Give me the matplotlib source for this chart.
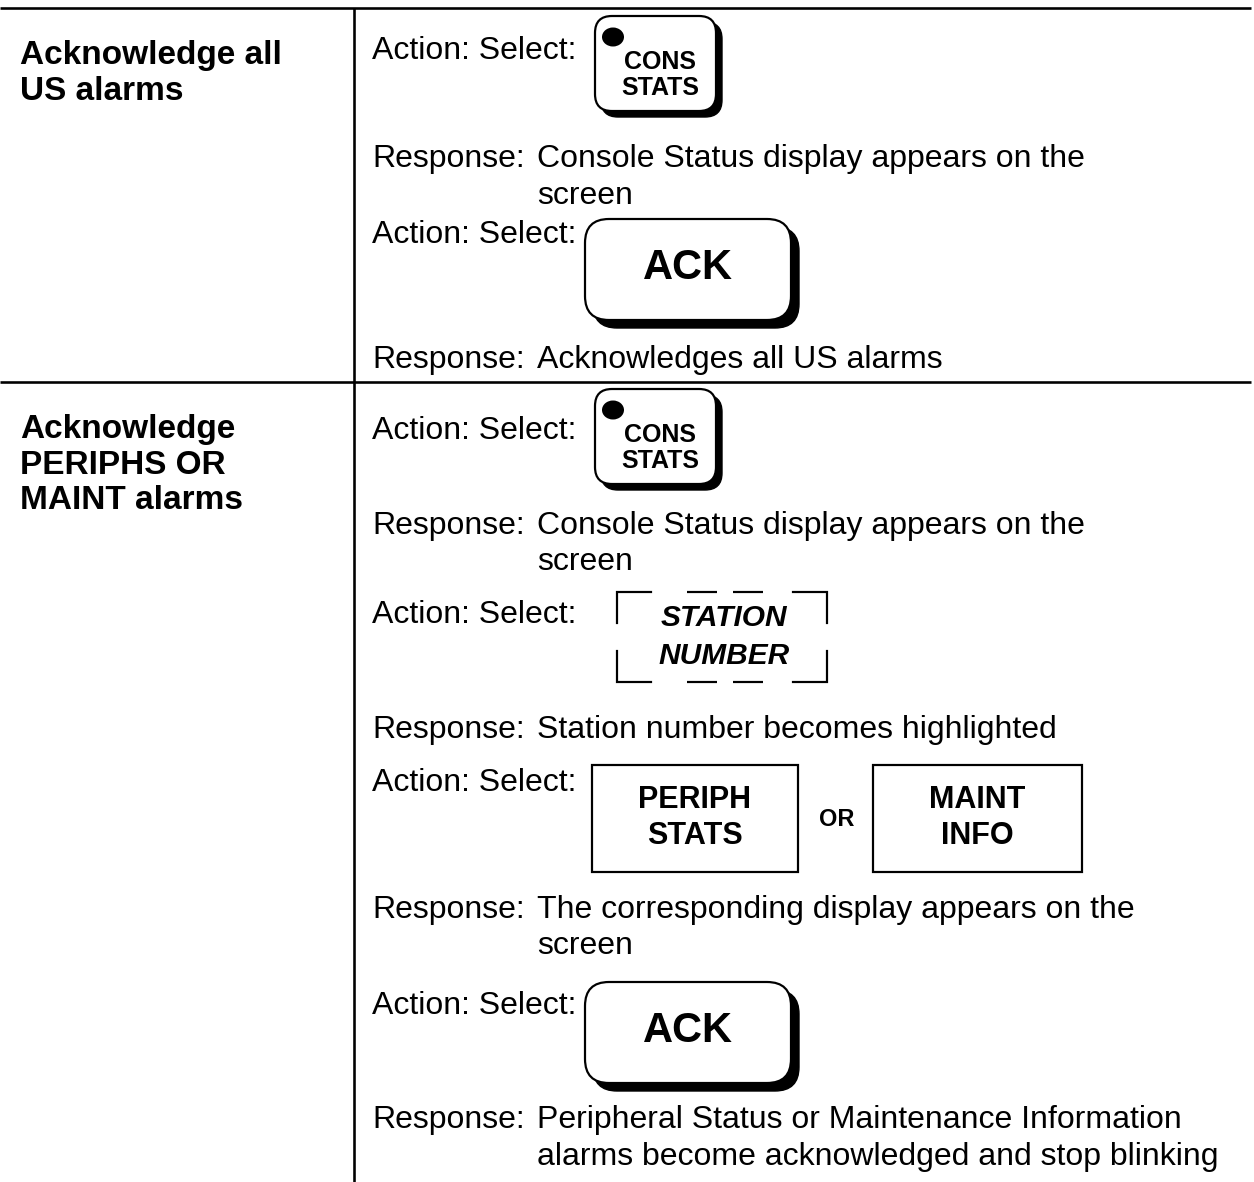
# Alarm acknowledge procedure table (two rows, action / response steps)

import matplotlib
matplotlib.use('Agg')

import matplotlib.pyplot as plt
from matplotlib.patches import FancyBboxPatch, Rectangle, Ellipse

# ----------------------------
# Text content
# ----------------------------

row_titles = [["Acknowledge all", "US alarms"],
              ["Acknowledge", "PERIPHS OR", "MAINT alarms"]]
title_baselines = [64, 438]

step_heads = ["Action: Select:", "Response:", "Action: Select:", "Response:",
              "Action: Select:", "Response:", "Action: Select:", "Response:",
              "Action: Select:", "Response:", "Action: Select:", "Response:"]
step_bodies = [[], ["Console Status display appears on the", "screen"],
               [], ["Acknowledges all US alarms"],
               [], ["Console Status display appears on the", "screen"],
               [], ["Station number becomes highlighted"],
               [], ["The corresponding display appears on the", "screen"],
               [], ["Peripheral Status or Maintenance Information",
                    "alarms become acknowledged and stop blinking"]]
step_baselines = [59, 167, 243, 368, 439, 534, 623, 738, 791, 918, 1014, 1128]

key_cons = ["CONS", "STATS"]
key_ack = ["ACK"]
key_station = ["STATION", "NUMBER"]
key_periph = ["PERIPH", "STATS"]
key_maint = ["MAINT", "INFO"]

FONT = ['Liberation Sans', 'DejaVu Sans']
PX = 72 / 100.0  # points per pixel

# ----------------------------
# Canvas in pixel units
# ----------------------------

fig = plt.figure(figsize=(12.54, 11.82), dpi=100)
ax = fig.add_axes([0, 0, 1, 1])
ax.set_xlim(0, 1254)
ax.set_ylim(1182, 0)
ax.axis('off')

# table rules
lw_rule = 2.6 * PX
ax.plot([0, 1251], [8, 8], color='black', lw=lw_rule, solid_capstyle='butt')
ax.plot([0, 1251], [382, 382], color='black', lw=lw_rule, solid_capstyle='butt')
ax.plot([354, 354], [8, 1182], color='black', lw=lw_rule, solid_capstyle='butt')

# row titles
for lines, y0 in zip(row_titles, title_baselines):
    for i, line in enumerate(lines):
        ax.text(20, y0 + i * 35.5, line, fontsize=24, fontweight='bold',
                family=FONT, va='baseline', ha='left')

# action / response lines
for head, body, y0 in zip(step_heads, step_bodies, step_baselines):
    ax.text(372, y0, head, fontsize=23, family=FONT, va='baseline', ha='left')
    for i, line in enumerate(body):
        ax.text(537, y0 + i * 36.5, line, fontsize=23, family=FONT,
                va='baseline', ha='left')


def round_key(x0, y0, w, h, r, shadow, labels, size, tx, ty, gap, dot=False):
    ax.add_patch(FancyBboxPatch((x0 + shadow, y0 + shadow), w, h,
                                boxstyle=f"round,pad=0,rounding_size={r}",
                                fc='black', ec='black', lw=1))
    ax.add_patch(FancyBboxPatch((x0, y0), w, h,
                                boxstyle=f"round,pad=0,rounding_size={r}",
                                fc='white', ec='black', lw=2.2 * PX))
    if dot:
        ax.add_patch(Ellipse((x0 + 18, y0 + 21), 22, 19, fc='black', ec='none'))
    for i, lab in enumerate(labels):
        ax.text(tx, ty + i * gap, lab, fontsize=size, fontweight='bold',
                family=FONT, ha='center', va='center')


def square_key(x0, y0, w, h, labels, size, gap):
    ax.add_patch(Rectangle((x0, y0), w, h, fc='white', ec='black', lw=2.2 * PX))
    cy = y0 + h / 2 - gap * (len(labels) - 1) / 2
    for i, lab in enumerate(labels):
        ax.text(x0 + w / 2, cy + i * gap, lab, fontsize=size, fontweight='bold',
                family=FONT, ha='center', va='center')


def dashed_key(x0, y0, w, h, labels, size, gap):
    lw = 2.2 * PX
    x1, y1 = x0 + w, y0 + h
    arm_x, arm_y = 34, 31
    # corners
    for cx, cy, sx, sy in [(x0, y0, 1, 1), (x1, y0, -1, 1),
                           (x0, y1, 1, -1), (x1, y1, -1, -1)]:
        ax.plot([cx + sx * arm_x, cx, cx], [cy, cy, cy + sy * arm_y],
                color='black', lw=lw, solid_joinstyle='miter')
    # middle dashes on top and bottom
    for a, b in [(70, 100), (116, 146)]:
        for yy in (y0, y1):
            ax.plot([x0 + a, x0 + b], [yy, yy], color='black', lw=lw,
                    solid_capstyle='butt')
    cy = y0 + h / 2 - gap * (len(labels) - 1) / 2
    for i, lab in enumerate(labels):
        ax.text(x0 + w / 2 + 2, cy + i * gap, lab, fontsize=size,
                fontweight='bold', style='italic', family=FONT,
                ha='center', va='center')


# ----------------------------
# Keys, row 1
# ----------------------------

round_key(595, 16, 121, 95, 17, 6, key_cons, 18, 660, 62, 26, dot=True)
round_key(585, 219, 206, 101, 24, 8, key_ack, 30, 688, 268, 0)

# ----------------------------
# Keys, row 2
# ----------------------------

round_key(595, 389, 121, 95, 17, 6, key_cons, 18, 660, 435, 26, dot=True)
dashed_key(617, 592, 210, 90, key_station, 21.5, 37)
square_key(592, 765, 206, 107, key_periph, 22, 36)
ax.text(837, 820, "OR", fontsize=17, fontweight='bold', family=FONT,
        ha='center', va='center')
square_key(873, 765, 209, 107, key_maint, 22, 36)
round_key(585, 982, 206, 101, 24, 8, key_ack, 30, 688, 1031, 0)

plt.savefig("out.png", dpi=100)
plt.close()
